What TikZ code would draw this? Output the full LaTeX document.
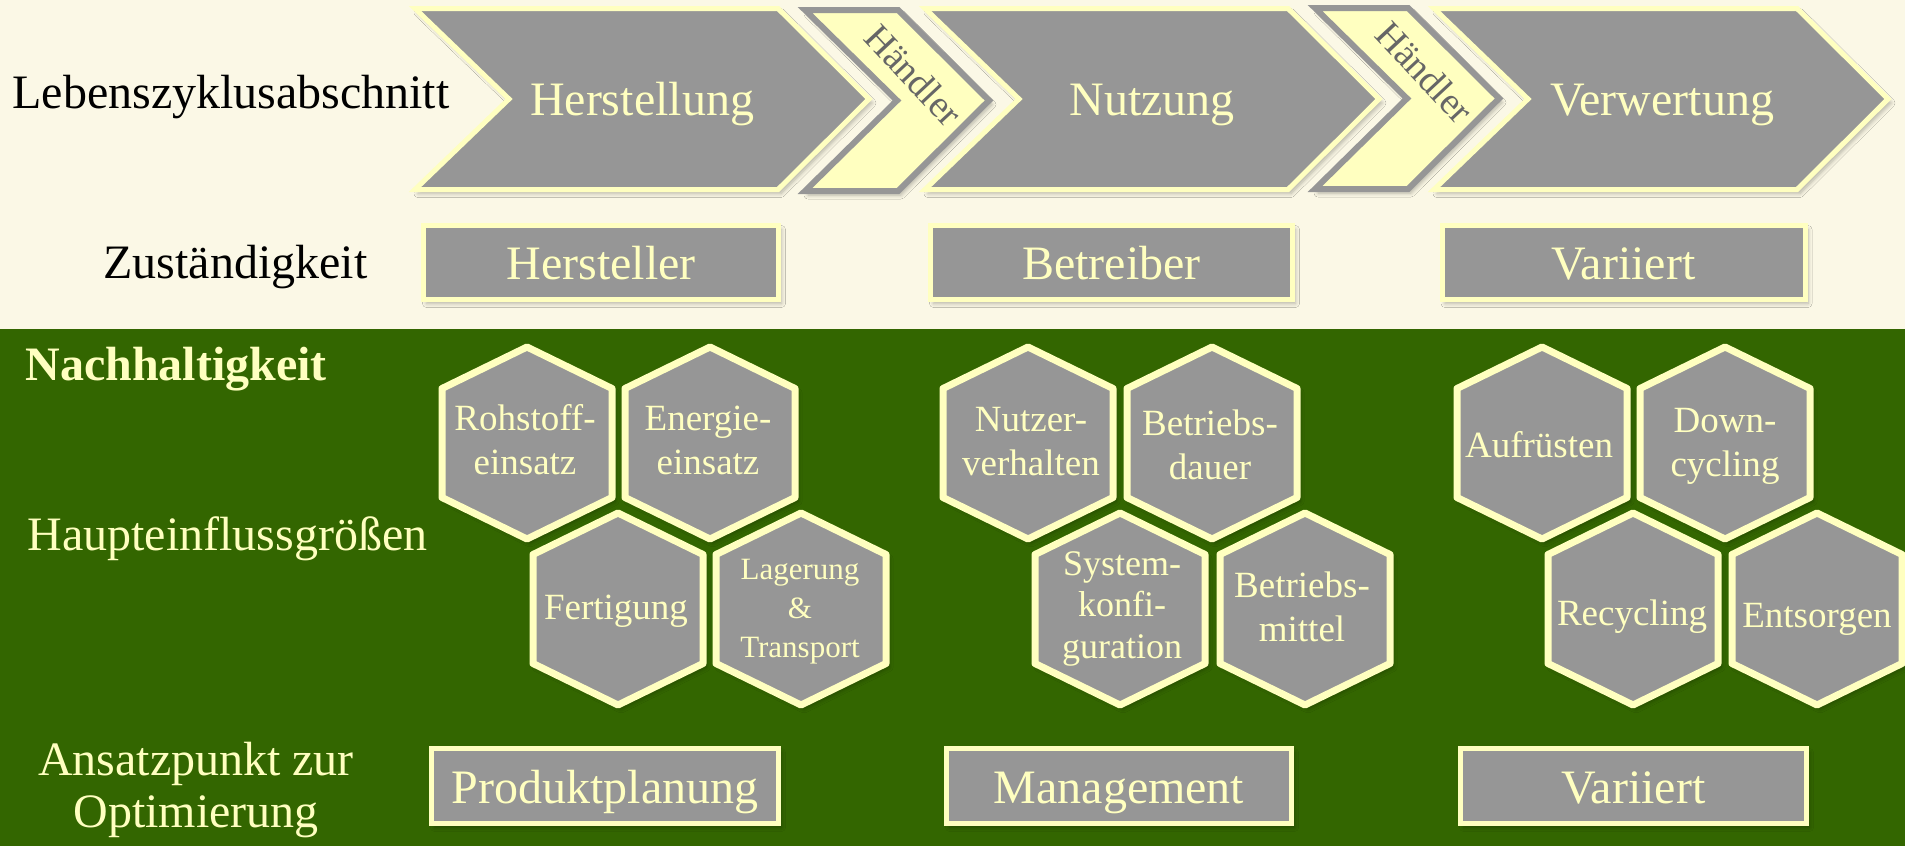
\documentclass[tikz,border=0pt]{standalone}
\usepackage{fontspec}
\setmainfont{Liberation Serif}
\usetikzlibrary{shadows.blur}
\definecolor{cream}{HTML}{FBF8E6}
\definecolor{leaf}{HTML}{336600}
\definecolor{shapegray}{HTML}{969696}
\definecolor{paleyellow}{HTML}{FFFFC0}
\definecolor{haendlergray}{HTML}{666666}
\tikzset{
  softshadow/.style={blur shadow={shadow xshift=1.5pt, shadow yshift=-2pt, shadow opacity=28, shadow blur steps=6, shadow blur radius=2pt}},
  bigfont/.style={font=\fontsize{24}{28}\selectfont},
  phase/.style={fill=shapegray, draw=paleyellow, line width=2.5pt, softshadow},
  trader/.style={fill=paleyellow, draw=shapegray, line width=3pt, softshadow},
  phasetext/.style={bigfont, text=paleyellow, anchor=base, inner sep=0pt},
  tradertext/.style={font=\fontsize{19}{22}\selectfont, text=haendlergray, rotate=-47, inner sep=0pt},
  infobox/.style={rectangle, fill=shapegray, draw=paleyellow, line width=2.5pt, inner sep=0pt,
    text=paleyellow, bigfont, text height=17pt, text depth=0pt, minimum height=37pt, softshadow},
  hexcell/.style={fill=shapegray, draw=paleyellow, line width=3.5pt, line join=round, softshadow},
  hextext/.style={text=paleyellow, align=center, inner sep=0pt, font=\fontsize{18.5}{22}\selectfont},
  darklabel/.style={bigfont, text=black, inner sep=0pt},
  lightlabel/.style={bigfont, text=paleyellow, inner sep=0pt},
}
\newcommand\hexpath[2]{\draw[hexcell] (#1,#2) ++(0,-96) -- ++(85,41.5) -- ++(0,109) -- ++(-85,41.5) -- ++(-85,-41.5) -- ++(0,-109) -- cycle;}
\begin{document}
\begin{tikzpicture}[x=0.5pt,y=-0.5pt]
\useasboundingbox (0,0) rectangle (1905,846);
\fill[cream] (0,0) rectangle (1905,329);
\fill[leaf] (0,329) rectangle (1905,846);

% life-cycle chevrons
\draw[phase] (415,8.5) -- (778,8.5) -- (869,99) -- (778,189.5) -- (415,189.5) -- (509,99) -- cycle;
\draw[trader] (805,10) -- (898,10) -- (989,100.5) -- (898,191) -- (805,191) -- (897,100.5) -- cycle;
\draw[phase] (925,8.5) -- (1288,8.5) -- (1379,99) -- (1288,189.5) -- (925,189.5) -- (1019,99) -- cycle;
\draw[trader] (1315,8) -- (1408,8) -- (1499,98.5) -- (1408,189) -- (1315,189) -- (1407,98.5) -- cycle;
\draw[phase] (1434,8.5) -- (1797,8.5) -- (1888,99) -- (1797,189.5) -- (1434,189.5) -- (1528,99) -- cycle;

\node[phasetext] (herstellung) at (642,115) {Herstellung};
\node[phasetext] (nutzung) at (1152,115) {Nutzung};
\node[phasetext] (verwertung) at (1662,115) {Verwertung};
\node[tradertext] (haendler1) at (914,75) {Händler};
\node[tradertext] (haendler2) at (1425,72) {Händler};

% row labels
\node[darklabel, anchor=base west] (lebenszyklus) at (12,108) {Lebenszyklusabschnitt};
\node[darklabel, anchor=base west] (zustaendigkeit) at (103,278) {Zuständigkeit};
\node[lightlabel, anchor=base west, font=\fontsize{24}{28}\selectfont\bfseries] (nachhaltigkeit) at (25,380) {Nachhaltigkeit};
\node[lightlabel, anchor=base west] (haupteinfluss) at (27,550) {Haupteinflussgrößen};
\node[lightlabel, anchor=base] (ansatz1) at (196,775) {Ansatzpunkt zur};
\node[lightlabel, anchor=base] (ansatz2) at (196,827) {Optimierung};

% responsibility boxes
\node[infobox, minimum width=177.5pt] (hersteller) at (601,262.5) {Hersteller};
\node[infobox, minimum width=181pt] (betreiber) at (1111.5,262.5) {Betreiber};
\node[infobox, minimum width=181.5pt] (variiert1) at (1623.5,262.5) {Variiert};

% hexagons
\hexpath{527}{443} \node[hextext] (rohstoff) at (525,439.5) {Rohstoff-\\einsatz};
\hexpath{710}{443} \node[hextext] (energie) at (708,440) {Energie-\\einsatz};
\hexpath{618}{609} \node[hextext] (fertigung) at (616,611.5) {Fertigung};
\hexpath{801}{609} \node[hextext, font=\fontsize{15.5}{19.5}\selectfont] (lagerung) at (800,612) {Lagerung\\\&\\Transport};
\hexpath{1028}{443} \node[hextext] (nutzer) at (1031,442) {Nutzer-\\verhalten};
\hexpath{1212}{443} \node[hextext] (betriebsdauer) at (1210,444.5) {Betriebs-\\dauer};
\hexpath{1120}{609} \node[hextext, font=\fontsize{18}{20.75}\selectfont] (systemkonfig) at (1122,608.5) {System-\\konfi-\\guration};
\hexpath{1305}{609} \node[hextext] (betriebsmittel) at (1302,606.5) {Betriebs-\\mittel};
\hexpath{1542}{443} \node[hextext] (aufruesten) at (1539,444.5) {Aufrüsten};
\hexpath{1725}{443} \node[hextext] (downcycling) at (1725,446) {Down-\\cycling};
\hexpath{1633}{609} \node[hextext] (recycling) at (1632,616.5) {Recycling};
\hexpath{1817}{609} \node[hextext] (entsorgen) at (1817,619) {Entsorgen};

% optimisation boxes
\node[infobox, minimum width=173.5pt, minimum height=37.5pt] (produktplanung) at (605,786) {Produktplanung};
\node[infobox, minimum width=172.5pt, minimum height=37.5pt] (management) at (1119,786) {Management};
\node[infobox, minimum width=173pt, minimum height=37.5pt] (variiert2) at (1633.5,786) {Variiert};
\end{tikzpicture}
\end{document}
